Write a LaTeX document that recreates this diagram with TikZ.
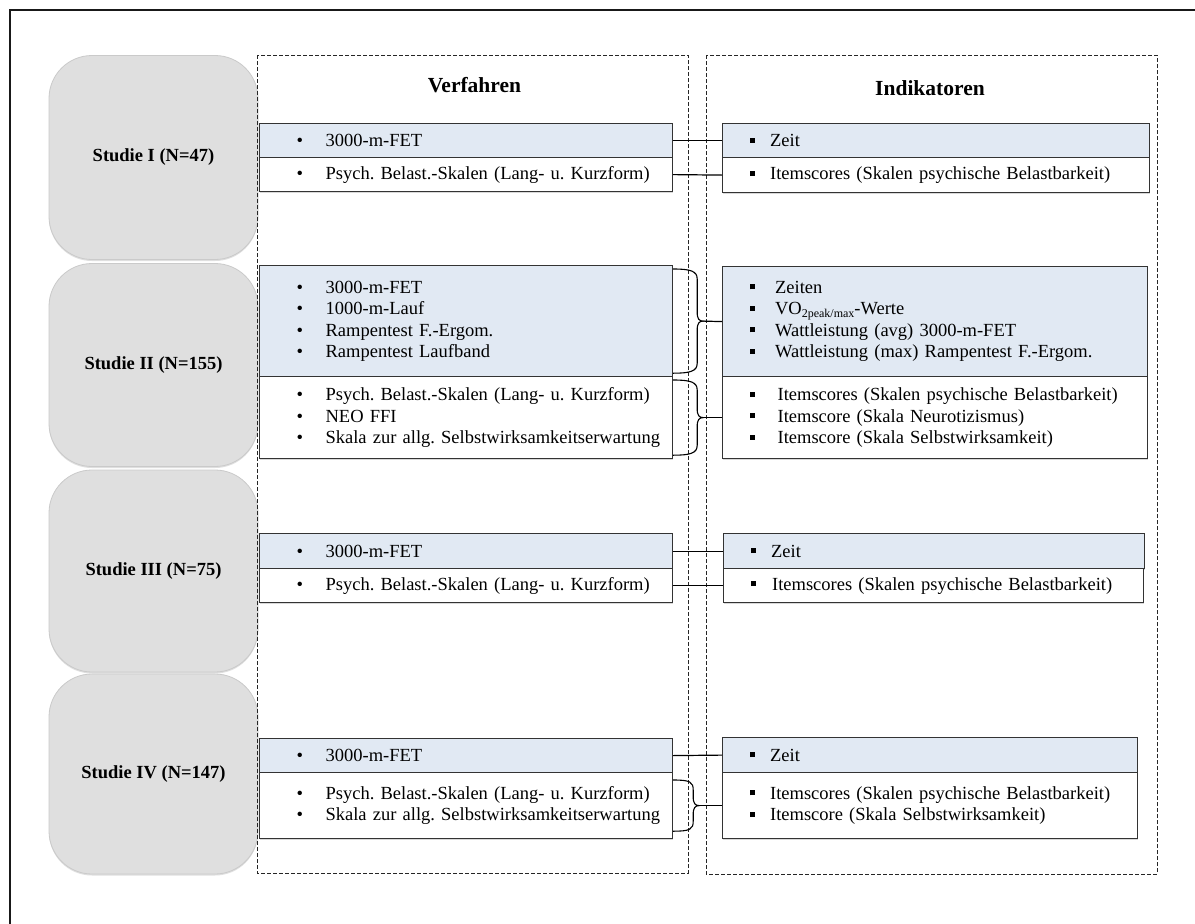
\documentclass[tikz,border=0pt]{standalone}
\usepackage{fontspec}
\setmainfont{Liberation Serif}
\usetikzlibrary{calc,shadows}
\frenchspacing

\definecolor{boxblue}{HTML}{E1E9F3}
\definecolor{studygray}{HTML}{DFDFDF}
\definecolor{studyedge}{HTML}{CACACA}

% bullet lines for the two columns
\newcommand\vitem[1]{\hspace*{37pt}\makebox[29pt][l]{\textbullet}#1}
\newcommand\iitem[2][20.5pt]{\hspace*{27pt}\makebox[#1][l]{\raisebox{4pt}{\rule{5pt}{5pt}}}#2}
\newcommand\subtext[1]{\raisebox{-2.5pt}{\fontsize{12}{12}\selectfont #1}}

% curly brace from the right side of a box, joined to a target box
\newcommand\bracelink[4]{%
  \coordinate (bt) at ($(#1.north east)+(0,#3)$);
  \coordinate (bb) at ($(#1.south east)+(0,-#3)$);
  \coordinate (bm) at ($(#1.east)+(#4,0)$);
  \draw[brace] (bt) .. controls ($(bt)+(17,0)$) and ($(bt -| bm)+(-6,2)$) .. ($(bt -| bm)+(-6,10)$)
     -- ($(bm)+(-6,-9)$) .. controls ($(bm)+(-6,-2)$) and ($(bm)+(-4,0)$) .. (bm)
     .. controls ($(bm)+(-4,0)$) and ($(bm)+(-6,2)$) .. ($(bm)+(-6,9)$)
     -- ($(bb -| bm)+(-6,-10)$) .. controls ($(bb -| bm)+(-6,-2)$) and ($(bb)+(17,0)$) .. (bb);
  \draw[link] (bm) -- (#2.west);
}

\tikzset{
  every node/.style={font=\fontsize{18.5}{21.5}\selectfont},
  studybox/.style={draw=studyedge, fill=studygray, rounded corners=43pt,
    minimum width=209pt, inner sep=0pt, line width=0.8pt,
    drop shadow={shadow xshift=0pt, shadow yshift=-1.5pt, opacity=0.25},
    font=\bfseries\fontsize{18.5}{21.5}\selectfont},
  column/.style={draw=black!85, line width=1pt, dash pattern=on 4pt off 2pt},
  itembox/.style={draw=black!80, line width=1.2pt, anchor=north west,
    inner xsep=0pt, inner ysep=0pt, align=left, text width=#1,
    drop shadow={shadow xshift=0.8pt, shadow yshift=-1.5pt, opacity=0.3}},
  blue/.style={fill=boxblue},
  plain/.style={fill=white},
  heading/.style={font=\bfseries\fontsize{21.5}{24}\selectfont},
  link/.style={draw=black, line width=1.2pt},
  brace/.style={draw=black, line width=1.1pt},
}

\begin{document}
\begin{tikzpicture}[x=1pt, y=-1pt]
  \useasboundingbox (0,0) rectangle (1195,924);
  \clip (0,0) rectangle (1195,924);
  \fill[white] (0,0) rectangle (1195,924);

  % outer frame
  \draw[line width=2pt, black!90] (10,10) rectangle (1210,940);

  % study boxes
  \node[studybox, minimum height=204pt] (s1) at (153.5,157.5) {Studie I (N=47)};
  \node[studybox, minimum height=203pt] (s2) at (153.5,365) {Studie II (N=155)};
  \node[studybox, minimum height=202pt] (s3) at (153.5,571) {Studie III (N=75)};
  \node[studybox, minimum height=200pt] (s4) at (153.5,774) {Studie IV (N=147)};

  % dashed columns
  \draw[column] (257,55) rectangle (688,873);
  \draw[column] (706,55) rectangle (1157,874);
  \node[heading] (hv) at (474.5,85) {Verfahren};
  \node[heading] (hi) at (930,88.5) {Indikatoren};

  % Studie I
  \node[itembox=413pt, blue,  minimum height=34pt] (v1a) at (259,123) {\vitem{3000-m-FET}};
  \node[itembox=413pt, plain, minimum height=34pt] (v1b) at (259,157) {\vitem{Psych. Belast.-Skalen (Lang- u. Kurzform)}};
  \node[itembox=427pt, blue,  minimum height=34pt] (i1a) at (722,123) {\iitem{Zeit}};
  \node[itembox=427pt, plain, minimum height=35pt] (i1b) at (722,157) {\iitem{Itemscores (Skalen psychische Belastbarkeit)}};

  % Studie II
  \node[itembox=413pt, blue,  minimum height=111pt] (v2a) at (259,265)
    {\vitem{3000-m-FET}\\\vitem{1000-m-Lauf}\\\vitem{Rampentest F.-Ergom.}\\\vitem{Rampentest Laufband}};
  \node[itembox=413pt, plain, minimum height=82pt] (v2b) at (259,376)
    {\vitem{Psych. Belast.-Skalen (Lang- u. Kurzform)}\\\vitem{NEO FFI}\\\vitem{Skala zur allg. Selbstwirksamkeitserwartung}};
  \node[itembox=425pt, blue,  minimum height=110pt] (i2a) at (722,266)
    {\iitem[25.5pt]{Zeiten}\\\iitem[25.5pt]{VO\subtext{2peak/max}-Werte}\\\iitem[25.5pt]{Wattleistung (avg) 3000-m-FET}\\\iitem[25.5pt]{Wattleistung (max) Rampentest F.-Ergom.}};
  \node[itembox=425pt, plain, minimum height=82pt] (i2b) at (722,376)
    {\iitem[28pt]{Itemscores (Skalen psychische Belastbarkeit)}\\\iitem[28pt]{Itemscore (Skala Neurotizismus)}\\\iitem[28pt]{Itemscore (Skala Selbstwirksamkeit)}};

  % Studie III
  \node[itembox=413pt, blue,  minimum height=35pt] (v3a) at (259,533) {\vitem{3000-m-FET}};
  \node[itembox=413pt, plain, minimum height=34pt] (v3b) at (259,568) {\vitem{Psych. Belast.-Skalen (Lang- u. Kurzform)}};
  \node[itembox=421pt, blue,  minimum height=35pt] (i3a) at (723,533) {\iitem{Zeit}};
  \node[itembox=420pt, plain, minimum height=34pt] (i3b) at (723,568) {\iitem[21.5pt]{Itemscores (Skalen psychische Belastbarkeit)}};

  % Studie IV
  \node[itembox=413pt, blue,  minimum height=34pt] (v4a) at (259,738) {\vitem{3000-m-FET}};
  \node[itembox=413pt, plain, minimum height=66pt] (v4b) at (259,772)
    {\vitem{Psych. Belast.-Skalen (Lang- u. Kurzform)}\\\vitem{Skala zur allg. Selbstwirksamkeitserwartung}};
  \node[itembox=415pt, blue,  minimum height=35pt] (i4a) at (722,737) {\iitem{Zeit}};
  \node[itembox=415pt, plain, minimum height=66pt] (i4b) at (722,772)
    {\iitem{Itemscores (Skalen psychische Belastbarkeit)}\\\iitem{Itemscore (Skala Selbstwirksamkeit)}};

  % connectors
  \draw[link] (v1a.east) -- (i1a.west);
  \draw[link] (v1b.east) -- (i1b.west);
  \bracelink{v2a}{i2a}{4}{30}
  \bracelink{v2b}{i2b}{4}{30}
  \draw[link] (v3a.east) -- (i3a.west);
  \draw[link] (v3b.east) -- (i3b.west);
  \draw[link] (v4a.east) -- (i4a.west);
  \bracelink{v4b}{i4b}{8}{26}
\end{tikzpicture}
\end{document}
